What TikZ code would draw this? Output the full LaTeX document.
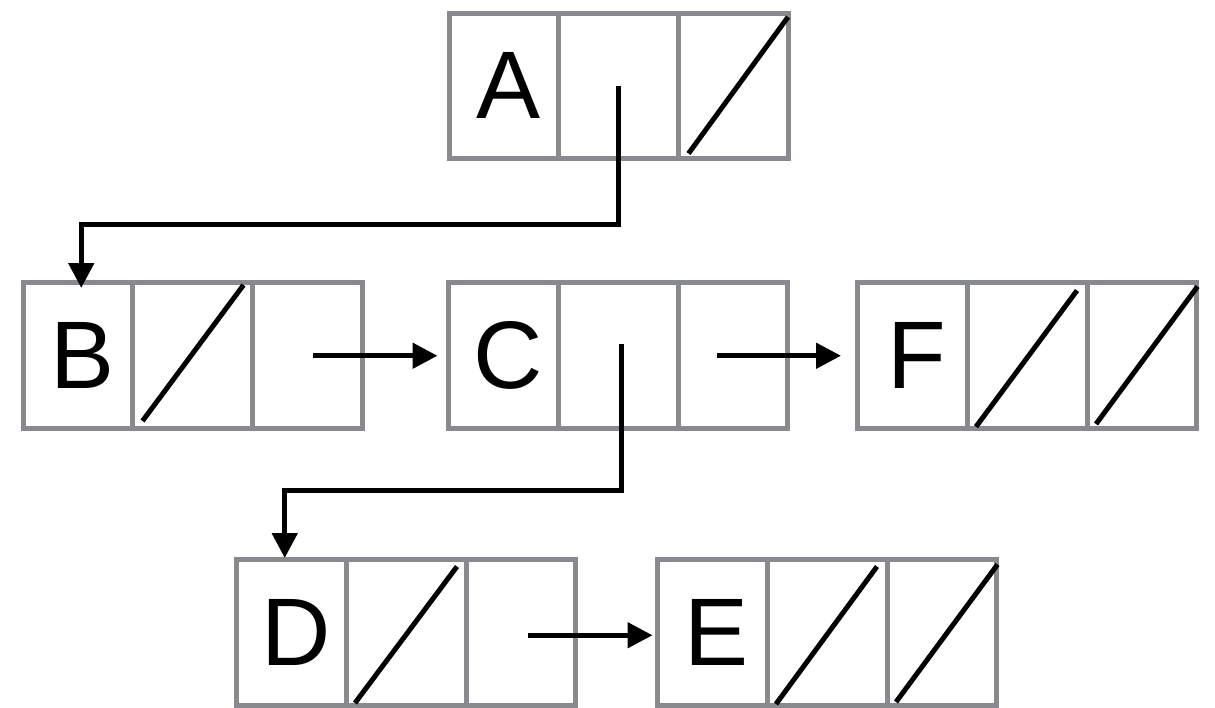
\documentclass[tikz,border=0pt]{standalone}
\usepackage{fontspec}
\setmainfont{Liberation Sans}
\usetikzlibrary{arrows.meta}
\definecolor{cellgray}{RGB}{136,138,141}

% three-cell list record: name, left x, top y, key letter
\newcommand\listrec[4]{%
  \node[cell,minimum width=109.5pt] (#11) at (#2+54.75,#3+72.75) {};
  \node[cell,minimum width=120pt]   (#12) at (#2+169.5,#3+72.75) {};
  \node[cell,minimum width=109.5pt] (#13) at (#2+284.25,#3+72.75) {};
  \node[key] (#1key) at ([shift={(4.5,0)}]#11.center) {#4};
}
% null pointer stroke across a cell
\newcommand\nullcell[5]{%
  \draw[nullmark] ([shift={(#2,#3)}]#1.south west) -- ([shift={(#4,#5)}]#1.north east);
}

\begin{document}
\begin{tikzpicture}[x=1pt,y=-1pt,
  cell/.style={draw=cellgray,line width=5pt,inner sep=0pt,outer sep=0pt,minimum height=145.5pt},
  key/.style={inner sep=0pt,outer sep=0pt,font=\fontsize{96}{96}\selectfont},
  nullmark/.style={line width=5pt,black},
  ptr/.style={line width=5pt,black,-{Triangle[length=25pt,width=25pt]}},
]
\useasboundingbox (0,0) rectangle (1215,707);

% records
\listrec{A}{449}{13}{A}
\listrec{B}{23}{282.5}{B}
\listrec{C}{448.5}{282.5}{C}
\listrec{F}{857.5}{282.5}{F}
\listrec{D}{236.5}{559.5}{D}
\listrec{E}{657.5}{559.5}{E}

% null pointers
\nullcell{A3}{10}{-5}{0}{4}
\nullcell{B2}{10}{-7}{-9}{2.5}
\nullcell{F2}{9}{-1.3}{-10}{8}
\nullcell{F3}{9}{-4}{1}{4}
\nullcell{D2}{9}{-2}{-9}{7}
\nullcell{E2}{9}{-1}{-10}{7}
\nullcell{E3}{9}{-3}{1}{5}

% child pointers
\draw[ptr] (A2.center) -- ++(0,138.5) -| ([shift={(3.5,5.5)}]B1.north);
\draw[ptr] ([shift={(3,-11)}]C2.center) -- ++(0,146) -| ([shift={(-6.5,-1.5)}]D1.north);

% sibling pointers
\draw[ptr] ([shift={(5.5,0.5)}]B3.center) -- ([shift={(-11,0.5)}]C1.west);
\draw[ptr] ([shift={(-16,0.5)}]C3.center) -- ([shift={(-16.5,0.5)}]F1.west);
\draw[ptr] ([shift={(7,3)}]D3.center) -- ([shift={(-5,3)}]E1.west);
\end{tikzpicture}
\end{document}
